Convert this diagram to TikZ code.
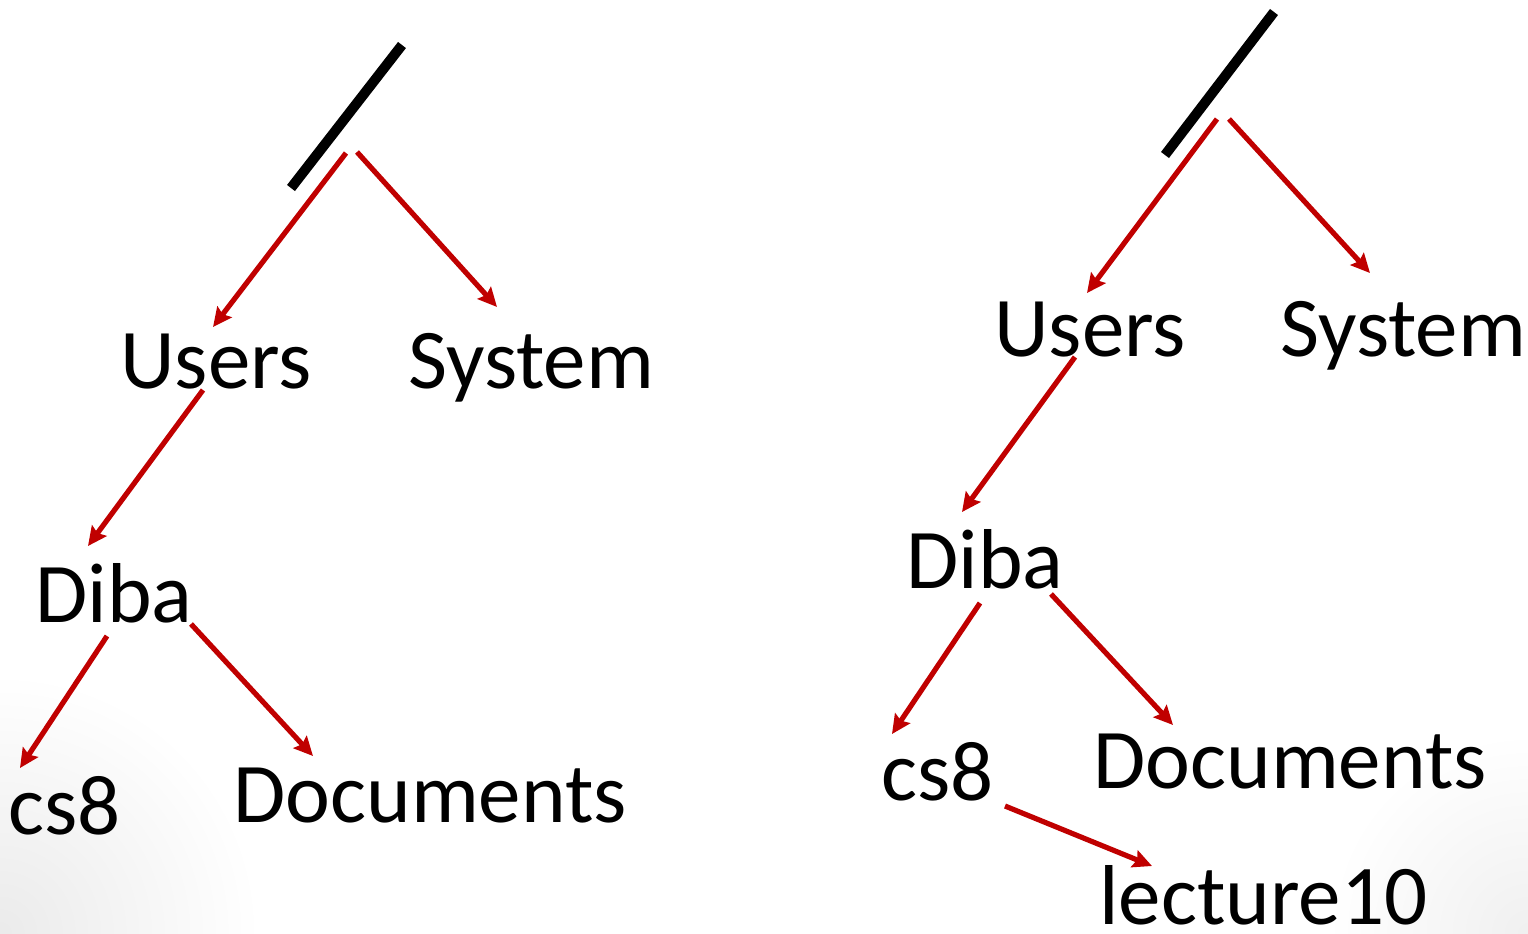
\documentclass[tikz,border=0pt]{standalone}
\usepackage{fontspec}
\setmainfont{Carlito}
\usetikzlibrary{arrows.meta}
\definecolor{arrowred}{HTML}{C00000}
\tikzset{
  lbl/.style={anchor=base west, inner sep=0pt, font=\fontsize{42.5}{51}\selectfont},
  rootbar/.style={line width=5pt, black},
  link/.style={arrowred, line width=2.6pt,
    -{Stealth[length=9.5pt,width=9pt,inset=1.5pt]}},
}
\begin{document}
\begin{tikzpicture}[x=0.5pt,y=-0.5pt]
\useasboundingbox (0,0) rectangle (1528,933);
\fill[white] (0,0) rectangle (1528,933);
% soft grey in the lower corners of the slide background
\begin{scope}
  \clip (0,0) rectangle (1528,933);
  \shade[inner color=black!8, outer color=white] (0,933) circle (260);
  \shade[inner color=black!6, outer color=white] (1528,933) circle (200);
\end{scope}

% ---------- first tree ----------
\coordinate (rootLa) at (291,188);
\coordinate (rootLb) at (402,45);
\draw[rootbar] (rootLa) -- (rootLb);

\node[lbl] (usersL) at (120,388) {Users};
\node[lbl] (systemL) at (408,388) {System};
\node[lbl] (dibaL) at (35,622) {Diba};
\node[lbl] (csL) at (8,834) {cs8};
\node[lbl] (docsL) at (233,822) {Documents};

\coordinate (rL1) at (346,153);
\coordinate (rL2) at (357,152);
\coordinate (uL1) at (213,327);
\coordinate (sL1) at (497,307);
\coordinate (uL2) at (203,390);
\coordinate (dL1) at (88,546);
\coordinate (dL2) at (107,636);
\coordinate (dL3) at (191,624);
\coordinate (cL1) at (20,768);
\coordinate (oL1) at (313,756);

\draw[link] (rL1) -- (uL1);
\draw[link] (rL2) -- (sL1);
\draw[link] (uL2) -- (dL1);
\draw[link] (dL2) -- (cL1);
\draw[link] (dL3) -- (oL1);

% ---------- second tree ----------
\coordinate (rootRa) at (1165,155);
\coordinate (rootRb) at (1274,12);
\draw[rootbar] (rootRa) -- (rootRb);

\node[lbl] (usersR) at (994,356) {Users};
\node[lbl] (systemR) at (1280,356) {System};
\node[lbl] (dibaR) at (906,588) {Diba};
\node[lbl] (csR) at (881,800) {cs8};
\node[lbl] (docsR) at (1093,788) {Documents};
\node[lbl] (lectR) at (1099,924) {lecture10};

\coordinate (rR1) at (1217,119);
\coordinate (rR2) at (1229,119);
\coordinate (uR1) at (1087,293);
\coordinate (sR1) at (1370,273);
\coordinate (uR2) at (1075,357);
\coordinate (dR1) at (962,512);
\coordinate (dR2) at (980,603);
\coordinate (dR3) at (1051,594);
\coordinate (cR1) at (892,734);
\coordinate (oR1) at (1173,725);
\coordinate (cR2) at (1005,806);
\coordinate (lR1) at (1152,866);

\draw[link] (rR1) -- (uR1);
\draw[link] (rR2) -- (sR1);
\draw[link] (uR2) -- (dR1);
\draw[link] (dR2) -- (cR1);
\draw[link] (dR3) -- (oR1);
\draw[link] (cR2) -- (lR1);
\end{tikzpicture}
\end{document}
